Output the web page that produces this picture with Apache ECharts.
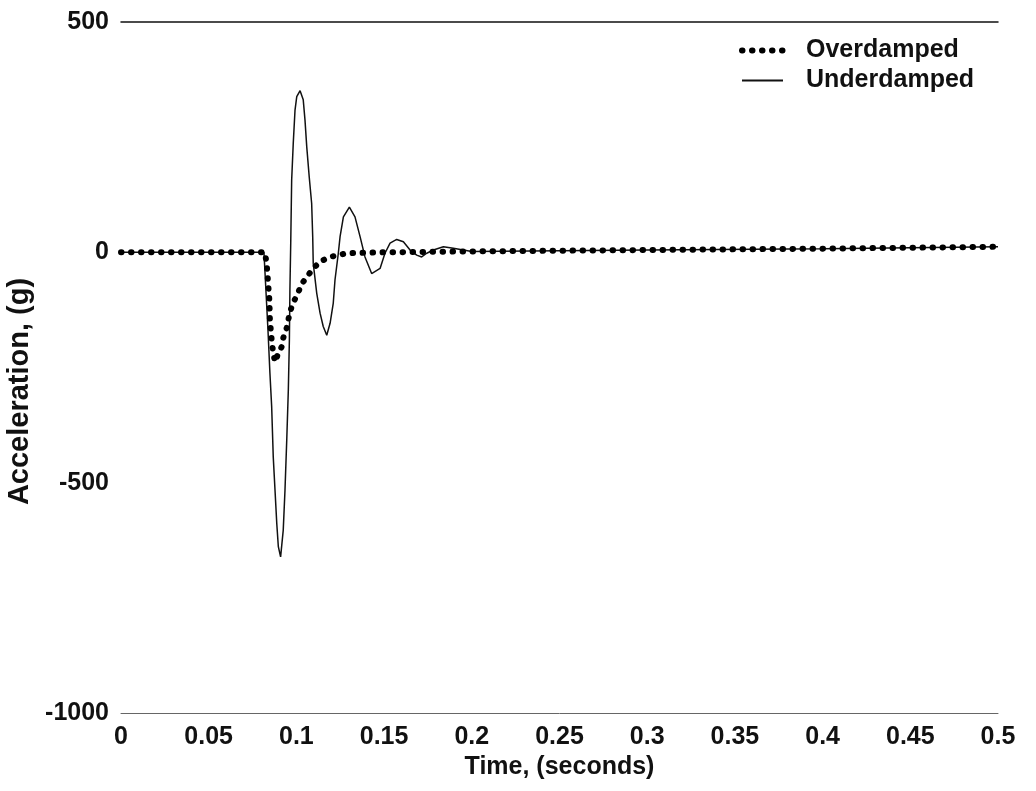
<!DOCTYPE html>
<html>
<head>
<meta charset="utf-8">
<script src="https://cdn.jsdelivr.net/npm/echarts@6/dist/echarts.min.js"></script>
<style>html,body{margin:0;padding:0;background:#fff;}#c{width:1036px;height:791px;}</style>
</head>
<body>
<div id="c"></div>
<script>
// Overdamped response (time in s, acceleration in g)
const overTime = [0, 0.0821, 0.0831, 0.0846, 0.0849, 0.0859, 0.0867, 0.0878, 0.0897, 0.0916, 0.0925, 0.0945, 0.0963, 0.0982, 0.1002, 0.1021, 0.1039, 0.1068, 0.1096, 0.1135, 0.1192, 0.1239, 0.1287, 0.15, 0.2, 0.3, 0.4, 0.5];
const overAccel = [0, 0, -27, -104, -147, -190, -216, -238, -219, -205, -186, -164, -129, -110, -93, -78, -64, -49, -35, -20, -10, -6, -2, 0, 2, 5, 8, 12];

// Underdamped response
const underTime = [0, 0.0815, 0.0838, 0.0849, 0.0859, 0.0868, 0.0878, 0.0888, 0.0897, 0.0910, 0.0925, 0.0935, 0.0945, 0.0954, 0.0960, 0.0963, 0.0968, 0.0973, 0.0982, 0.0992, 0.1002, 0.1021, 0.1039, 0.1049, 0.1059, 0.1073, 0.1087, 0.1093, 0.1096, 0.1116, 0.1135, 0.1153, 0.1173, 0.1192, 0.1210, 0.1220, 0.1239, 0.1249, 0.1268, 0.1302, 0.1334, 0.1363, 0.1391, 0.1429, 0.1477, 0.1505, 0.1534, 0.1572, 0.1610, 0.1648, 0.1686, 0.1714, 0.1743, 0.1781, 0.1838, 0.1895, 0.2, 0.3, 0.4, 0.5];
const underAccel = [0, 0, -169, -262, -335, -444, -516, -588, -639, -661, -603, -516, -407, -299, -190, -82, 27, 157, 236, 308, 338, 351, 331, 287, 229, 164, 106, 34, -24, -89, -132, -161, -180, -154, -111, -60, -2, 34, 77, 98, 77, 34, -10, -46, -35, -2, 20, 28, 23, 5, -6, -10, -2, 5, 12, 9, 2, 5, 8, 12];

const seriesNames = ['Overdamped', 'Underdamped'];
const xTicks = [0, 0.05, 0.1, 0.15, 0.2, 0.25, 0.3, 0.35, 0.4, 0.45, 0.5];
const yTicks = [-1000, -500, 0, 500];

const FONT = '"Liberation Sans", Arial, sans-serif';
const pairs = (xs, ys) => xs.map((x, i) => [x, ys[i]]);
const dotStyle = {color: '#000', width: 6, type: [0.5, 9.5], cap: 'round'};
const solidStyle = {color: '#111', width: 1.5};

const chart = echarts.init(document.getElementById('c'), null, {renderer: 'canvas'});
chart.setOption({
  animation: false,
  backgroundColor: '#fff',
  grid: {left: 121, right: 38, top: 22, bottom: 78, outerBoundsMode: 'none', containLabel: false},
  legend: {
    orient: 'vertical',
    left: 739,
    top: 38,
    padding: 0,
    itemWidth: 41,
    itemHeight: 14,
    itemGap: 5,
    itemStyle: {opacity: 0},
    data: [
      {name: seriesNames[0], lineStyle: Object.assign({}, dotStyle)},
      {name: seriesNames[1], lineStyle: {color: '#111', width: 2}}
    ],
    textStyle: {fontFamily: FONT, fontSize: 25, fontWeight: 'bold', color: '#111', padding: [0, 0, 0, 18]}
  },
  xAxis: [{
    type: 'value',
    min: xTicks[0],
    max: xTicks[xTicks.length - 1],
    interval: 0.05,
    position: 'bottom',
    name: 'Time, (seconds)',
    nameLocation: 'middle',
    nameGap: 39,
    nameTextStyle: {fontFamily: FONT, fontSize: 25, fontWeight: 'bold', color: '#111'},
    axisLine: {show: true, onZero: false, lineStyle: {color: '#666', width: 1}},
    axisTick: {show: false},
    splitLine: {show: false},
    axisLabel: {fontFamily: FONT, fontSize: 25, fontWeight: 'bold', color: '#111', margin: 12,
      formatter: v => String(Math.round(v * 100) / 100)}
  }, {
    type: 'value',
    min: xTicks[0],
    max: xTicks[xTicks.length - 1],
    position: 'top',
    axisLine: {show: true, onZero: false, lineStyle: {color: '#111', width: 1.5}},
    axisTick: {show: false},
    axisLabel: {show: false},
    splitLine: {show: false}
  }],
  yAxis: {
    type: 'value',
    min: yTicks[0],
    max: yTicks[yTicks.length - 1],
    interval: 500,
    name: 'Acceleration, (g)',
    nameLocation: 'middle',
    nameGap: 62,
    nameTextStyle: {fontFamily: FONT, fontSize: 29, fontWeight: 'bold', color: '#111', padding: [0, 48, 0, 0]},
    axisLine: {show: false},
    axisTick: {show: false},
    splitLine: {show: false},
    axisLabel: {fontFamily: FONT, fontSize: 25, fontWeight: 'bold', color: '#111', margin: 12,
      formatter: v => String(v)}
  },
  series: [{
    name: seriesNames[1],
    type: 'line',
    symbol: 'none',
    z: 2,
    itemStyle: {color: '#111'},
    data: pairs(underTime, underAccel),
    lineStyle: solidStyle
  }, {
    name: seriesNames[0],
    type: 'line',
    symbol: 'none',
    z: 3,
    itemStyle: {color: '#000'},
    data: pairs(overTime, overAccel),
    lineStyle: dotStyle
  }]
});
</script>
</body>
</html>
